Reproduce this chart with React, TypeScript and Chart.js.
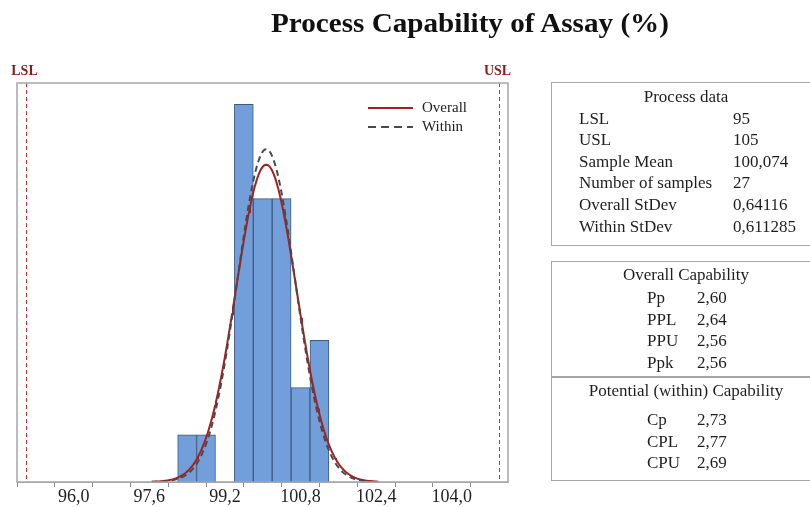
import React, { useEffect, useRef } from "react";
import { Chart, registerables } from "chart.js";

Chart.register(...registerables);

// Histogram bins (centre of each 0.4-wide bin) and observation counts
const binCenters = [98.4, 98.8, 99.2, 99.6, 100.0, 100.4, 100.8, 101.2];
const binCounts = [1, 1, 0, 8, 6, 6, 2, 3];
const binWidth = 0.4;

// Specification limits and process statistics
const LSL = 95;
const USL = 105;
const sampleMean = 100.074;
const sampleCount = 27;
const overallStDev = 0.64116;
const withinStDev = 0.611285;

// Range over which the fitted normal curves are drawn
const curveStart = 97.65;
const curveEnd = 102.45;
const curveStep = 0.02;

// Axis ticks
const tickValues = [95.2, 96.0, 96.8, 97.6, 98.4, 99.2, 100.0, 100.8, 101.6, 102.4, 103.2, 104.0, 104.8];
const labeledTicks = [96.0, 97.6, 99.2, 100.8, 102.4, 104.0];

// Side tables
const processRows: [string, string][] = [
  ["LSL", "95"],
  ["USL", "105"],
  ["Sample Mean", "100,074"],
  ["Number of samples", "27"],
  ["Overall StDev", "0,64116"],
  ["Within StDev", "0,611285"],
];
const overallRows: [string, string][] = [
  ["Pp", "2,60"],
  ["PPL", "2,64"],
  ["PPU", "2,56"],
  ["Ppk", "2,56"],
];
const withinRows: [string, string][] = [
  ["Cp", "2,73"],
  ["CPL", "2,77"],
  ["CPU", "2,69"],
];

const SERIF = '"Liberation Serif", "Times New Roman", serif';

// Normal density scaled to histogram counts (n * bin width * pdf)
function normalCurve(sd: number) {
  const pts: { x: number; y: number }[] = [];
  for (let x = curveStart; x <= curveEnd + 1e-9; x += curveStep) {
    const z = (x - sampleMean) / sd;
    pts.push({
      x,
      y: (sampleCount * binWidth * Math.exp(-0.5 * z * z)) / (sd * Math.sqrt(2 * Math.PI)),
    });
  }
  return pts;
}

const specLinesPlugin = {
  id: "specLines",
  afterDatasetsDraw(chart: any) {
    const { ctx, chartArea, scales } = chart;
    const xs = scales.x;
    ctx.save();
    [
      [LSL, "LSL"],
      [USL, "USL"],
    ].forEach(([v, label]) => {
      const px = Math.round(xs.getPixelForValue(v as number)) + 0.5;
      ctx.strokeStyle = "#d42a2a";
      ctx.lineWidth = 1;
      ctx.setLineDash([4, 3]);
      ctx.beginPath();
      ctx.moveTo(px, chartArea.top);
      ctx.lineTo(px, chartArea.bottom);
      ctx.stroke();
      ctx.setLineDash([]);
      ctx.fillStyle = "#8b1a1a";
      ctx.font = `bold 14px ${SERIF}`;
      ctx.textAlign = "center";
      ctx.textBaseline = "middle";
      ctx.fillText(label as string, px - 2, chartArea.top - 12);
    });
    ctx.restore();
  },
  afterDraw(chart: any) {
    const { ctx, chartArea } = chart;
    ctx.save();
    // plot frame
    ctx.strokeStyle = "#a6a6a6";
    ctx.lineWidth = 1.5;
    ctx.strokeRect(chartArea.left, chartArea.top, chartArea.right - chartArea.left, chartArea.bottom - chartArea.top);
    // legend
    const lx0 = chartArea.right - 140;
    const lx1 = chartArea.right - 95;
    const y1 = chartArea.top + 25;
    const y2 = chartArea.top + 44;
    ctx.lineWidth = 2;
    ctx.strokeStyle = "#a52121";
    ctx.beginPath();
    ctx.moveTo(lx0, y1);
    ctx.lineTo(lx1, y1);
    ctx.stroke();
    ctx.strokeStyle = "#4a4a4a";
    ctx.setLineDash([8, 5]);
    ctx.beginPath();
    ctx.moveTo(lx0, y2);
    ctx.lineTo(lx1, y2);
    ctx.stroke();
    ctx.setLineDash([]);
    ctx.fillStyle = "#222";
    ctx.font = `15px ${SERIF}`;
    ctx.textAlign = "left";
    ctx.textBaseline = "middle";
    ctx.fillText("Overall", lx1 + 9, y1);
    ctx.fillText("Within", lx1 + 9, y2);
    ctx.restore();
  },
};

function CapabilityChart() {
  const ref = useRef<HTMLCanvasElement | null>(null);
  useEffect(() => {
    if (!ref.current) return;
    const chart = new Chart(ref.current, {
      type: "bar",
      data: {
        datasets: [
          {
            type: "line",
            label: "Within",
            data: normalCurve(withinStDev),
            borderColor: "#4a4a4a",
            borderWidth: 2,
            borderDash: [6, 4],
            pointRadius: 0,
            tension: 0,
            order: 0,
          } as any,
          {
            type: "line",
            label: "Overall",
            data: normalCurve(overallStDev),
            borderColor: "#a52121",
            borderWidth: 2,
            pointRadius: 0,
            tension: 0,
            order: 1,
          } as any,
          {
            type: "bar",
            label: "Count",
            data: binCenters.map((c, i) => ({ x: c, y: binCounts[i] })),
            backgroundColor: "#729fd9",
            borderColor: "#3f5a80",
            borderWidth: 1,
            barPercentage: 1,
            categoryPercentage: 1,
            order: 2,
          } as any,
        ],
      },
      options: {
        animation: false,
        responsive: false,
        layout: { padding: { left: 17, right: 302, top: 83, bottom: 0 } },
        plugins: { legend: { display: false }, tooltip: { enabled: false } },
        scales: {
          x: {
            type: "linear",
            min: 94.8,
            max: 105.19,
            offset: false,
            afterBuildTicks: (axis: any) => {
              axis.ticks = tickValues.map((v) => ({ value: v }));
            },
            ticks: {
              autoSkip: false,
              maxRotation: 0,
              padding: 1,
              color: "#222",
              font: { family: SERIF, size: 18, lineHeight: 1 },
              callback: (v: any) => {
                const n = Number(v);
                return labeledTicks.some((t) => Math.abs(t - n) < 1e-6) ? n.toFixed(1).replace(".", ",") : "";
              },
            },
            grid: { display: true, drawOnChartArea: false, drawTicks: true, tickLength: 5, color: "#8a8a8a" },
            border: { display: true, color: "#a6a6a6" },
          },
          y: { display: false, min: 0, max: 8.45 },
        },
      } as any,
      plugins: [specLinesPlugin],
    });
    return () => chart.destroy();
  }, []);
  return <canvas ref={ref} width={810} height={507} style={{ position: "absolute", left: 0, top: 0 }} />;
}

function Line({ text, left, center, align }: { text: string; left: number; center: number; align?: "left" | "center" }) {
  return (
    <div
      style={{
        position: "absolute",
        left: align === "center" ? left - 200 : left,
        width: align === "center" ? 400 : undefined,
        top: center - 11,
        height: 22,
        lineHeight: "22px",
        fontSize: 17,
        fontFamily: SERIF,
        color: "#1e1e1e",
        whiteSpace: "nowrap",
        textAlign: align === "center" ? "center" : "left",
      }}
    >
      {text}
    </div>
  );
}

const boxStyle = (top: number, height: number): React.CSSProperties => ({
  position: "absolute",
  left: 551,
  top,
  width: 270,
  height,
  border: "1.5px solid #a6a6a6",
  boxSizing: "border-box",
});

export default function App() {
  useEffect(() => {
    document.body.style.margin = "0";
  }, []);
  const headerX = 686;
  return (
    <div style={{ position: "relative", width: 810, height: 507, overflow: "hidden", background: "#fff" }}>
      <CapabilityChart />
      <div
        style={{
          position: "absolute",
          left: 270,
          top: 8,
          width: 400,
          textAlign: "center",
          fontFamily: SERIF,
          fontWeight: "bold",
          fontSize: 27,
          lineHeight: "30px",
          color: "#111",
          transform: "scaleX(1.08)",
          whiteSpace: "nowrap",
        }}
      >
        Process Capability of Assay (%)
      </div>

      <div style={boxStyle(82, 164)} />
      <Line text="Process data" left={headerX} center={97} align="center" />
      {processRows.map(([k, v], i) => (
        <React.Fragment key={k}>
          <Line text={k} left={579} center={118.5 + i * 21.6} />
          <Line text={v} left={733} center={118.5 + i * 21.6} />
        </React.Fragment>
      ))}

      <div style={boxStyle(261, 220)} />
      <div style={{ position: "absolute", left: 551, top: 376, width: 270, height: 1.5, background: "#a6a6a6" }} />
      <Line text="Overall Capability" left={headerX} center={275} align="center" />
      {overallRows.map(([k, v], i) => (
        <React.Fragment key={k}>
          <Line text={k} left={647} center={298 + i * 21.7} />
          <Line text={v} left={697} center={298 + i * 21.7} />
        </React.Fragment>
      ))}
      <Line text="Potential (within) Capability" left={headerX} center={391} align="center" />
      {withinRows.map(([k, v], i) => (
        <React.Fragment key={k}>
          <Line text={k} left={647} center={420 + i * 21.7} />
          <Line text={v} left={697} center={420 + i * 21.7} />
        </React.Fragment>
      ))}
    </div>
  );
}
